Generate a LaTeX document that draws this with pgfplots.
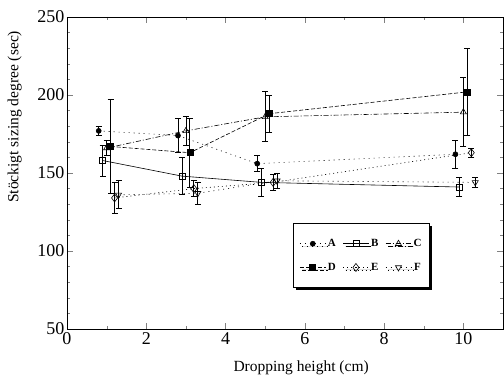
\documentclass[border=0pt]{standalone}
\usepackage{pgfplots}
\pgfplotsset{compat=1.18}
\usepackage{fontspec}
\setmainfont{Liberation Serif}
\usetikzlibrary{shadows}
\begin{document}
\begin{tikzpicture}
\begin{axis}[
  scale only axis, width=436pt, height=312pt,
  xmin=0, xmax=11, ymin=50, ymax=250,
  xtick={0,2,4,6,8,10}, minor xtick={1,3,5,7,9},
  ytick={50,100,150,200,250}, minor ytick={60,70,80,90,110,120,130,140,160,170,180,190,210,220,230,240},
  tick align=inside, major tick length=6pt, minor tick length=3pt,
  axis line style={line width=0.9pt},
  /pgf/number format/assume math mode=true,
  tick label style={font=\fontsize{18}{18}\selectfont},
  yticklabel style={xshift=1pt},
  xticklabel style={yshift=0pt},
  label style={font=\fontsize{15.5}{15.5}\selectfont},
  xlabel={Dropping height (cm)},
  ylabel={Stöckigt sizing degree (sec)},
  xlabel style={at={(axis description cs:0.537,-0.125)}, anchor=center},
  ylabel style={at={(axis description cs:-0.12,0.68)}, anchor=center},
  legend columns=3,
  legend image code/.code={\draw[mark repeat=2,mark phase=2] plot coordinates {(0cm,0cm) (0.45cm,0cm) (0.9cm,0cm)};},
  legend style={at={(axis description cs:0.519,0.34)}, anchor=north west, draw=black, line width=0.8pt,
    font=\bfseries\fontsize{11}{13}\selectfont, inner xsep=6pt, inner ysep=14pt,
    /tikz/every even column/.append style={column sep=5pt},
    row sep=11pt,
    drop shadow={shadow xshift=2.5pt, shadow yshift=-2.5pt, fill=black, opacity=1}, fill=white},
  legend image post style={line width=0.6pt},
  every axis plot/.append style={line width=0.6pt, black},
  error bars/y dir=both, error bars/y explicit,
  error bars/error bar style={line width=0.8pt, solid},
  error bars/error mark options={rotate=90, mark size=3pt, line width=0.8pt},
]
% A
\addplot[dash pattern=on 1pt off 4pt, mark=*, mark size=2.5pt, mark options={solid, fill=black}]
  table[x=x, y=y, y error=e] {
x y e
0.8 177 3
2.8 174 11
4.8 156 5
9.8 162 9
};
\addlegendentry{A}
% B
\addplot[solid, mark=square, mark size=3pt, mark options={solid, fill=white}]
  table[x=x, y=y, y error=e] {
x y e
0.9 158 10
2.9 148 12
4.9 144 9
9.9 141 6
};
\addlegendentry{B}
% C
\addplot[dash pattern=on 5pt off 2pt on 1pt off 2pt, mark=triangle, mark size=3.5pt, mark options={solid, fill=white}]
  table[x=x, y=y, y error=e] {
x y e
1.0 166 5
3.0 177 9
5.0 186 16
10.0 189 22
};
\addlegendentry{C}
% D
\addplot[dash pattern=on 4pt off 2pt, mark=square*, mark size=3pt, mark options={solid, fill=black}]
  table[x=x, y=y, y error=e] {
x y e
1.1 167 30
3.1 163 22
5.1 188 12
10.1 202 28
};
\addlegendentry{D}
% E
\addplot[dash pattern=on 1pt off 3pt, mark=diamond, mark size=4pt, mark options={solid, fill=white}]
  table[x=x, y=y, y error=e] {
x y e
1.2 134 10
3.2 140 5
5.2 144 5
10.2 163 3
};
\addlegendentry{E}
% F
\addplot[dash pattern=on 1pt off 4pt, mark=triangle, mark size=3.5pt, mark options={solid, fill=white, rotate=180}]
  table[x=x, y=y, y error=e] {
x y e
1.3 136 9
3.3 137 7
5.3 145 5
10.3 144 3
};
\addlegendentry{F}
\end{axis}
\path[use as bounding box] ([xshift=-67pt,yshift=-54pt]current axis.south west) rectangle ([xshift=1pt,yshift=17pt]current axis.north east);
\end{tikzpicture}
\end{document}
